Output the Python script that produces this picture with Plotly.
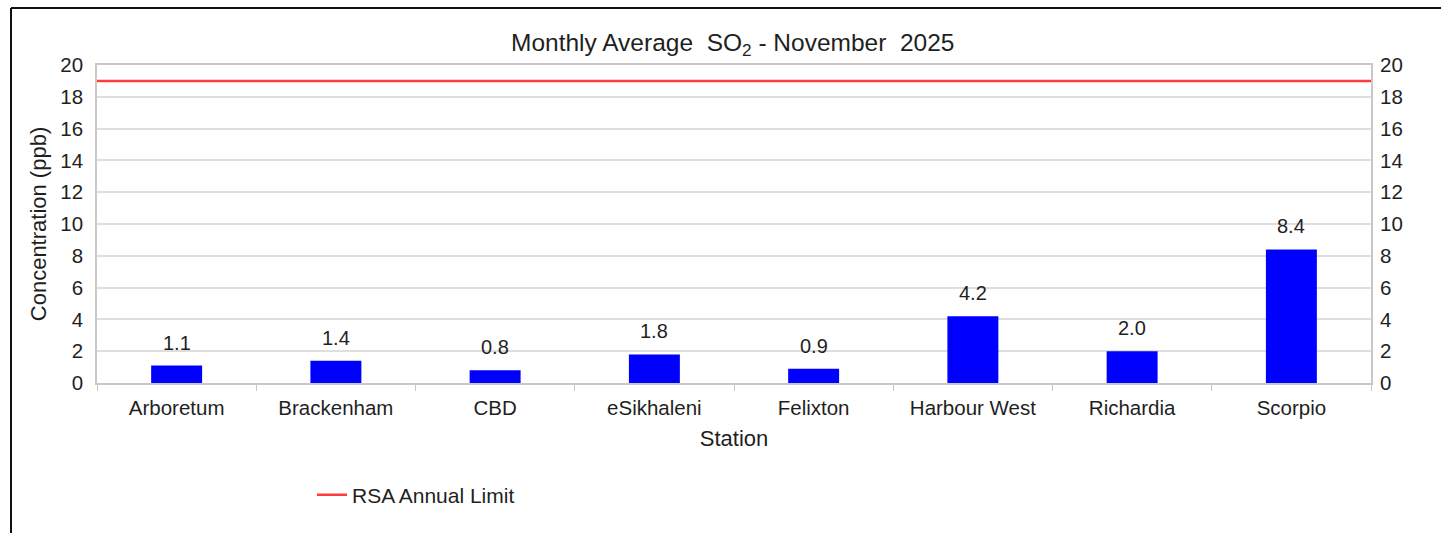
import plotly.graph_objects as go

stations = ["Arboretum", "Brackenham", "CBD", "eSikhaleni", "Felixton",
            "Harbour West", "Richardia", "Scorpio"]
so2_values = [1.1, 1.4, 0.8, 1.8, 0.9, 4.2, 2.0, 8.4]
annual_limit = 19
y_ticks = list(range(0, 21, 2))

FONT = "Liberation Sans, Arial, sans-serif"
TXT = "#1f1f1f"

fig = go.Figure()
fig.add_trace(go.Bar(
    x=stations, y=so2_values,
    marker=dict(color="#0000FF", line=dict(width=0)),
    width=0.32,
    showlegend=False,
))
fig.add_trace(go.Scatter(
    x=[0, 1], y=[annual_limit, annual_limit],
    xaxis="x2", yaxis="y",
    mode="lines", line=dict(color="#FF3B3B", width=2.5),
    name="RSA Annual Limit", showlegend=True,
))
# trace that activates the right-hand axis (no visible marks)
fig.add_trace(go.Scatter(x=[stations[0]], y=[None], yaxis="y2", mode="markers",
                         showlegend=False, hoverinfo="skip"))

# value labels above the bars
for st, v in zip(stations, so2_values):
    fig.add_annotation(x=st, y=v, xref="x", yref="y", text=f"{v:.1f}",
                       showarrow=False, yanchor="bottom", yshift=10,
                       font=dict(family=FONT, size=20, color=TXT))

tfont = dict(family=FONT, size=20.5, color=TXT)
L, R, T, B = 97, 1371, 65, 383
W, H = 1441, 533
frame_x = (11 - L) / (R - L)
frame_y = (B - 8) / (B - T)

fig.update_layout(
    width=W, height=H,
    margin=dict(l=L, r=W - R, t=T, b=H - B),
    paper_bgcolor="white", plot_bgcolor="white",
    font=dict(family=FONT, color=TXT),
    title=dict(text="Monthly Average\u00a0\u00a0SO<sub>2</sub> - November\u00a0\u00a02025",
               x=0.5085, xanchor="center", y=1 - 42 / H, yanchor="middle",
               font=dict(family=FONT, size=24.5, color=TXT)),
    xaxis=dict(
        type="category", showgrid=False, showline=True, linecolor="#c8c8c8",
        linewidth=1.5, mirror=True, ticks="outside", tickson="boundaries",
        ticklen=6, tickcolor="#c8c8c8", tickfont=tfont, ticklabelstandoff=6,
        title=dict(text="Station", font=dict(family=FONT, size=22, color=TXT), standoff=12),
    ),
    xaxis2=dict(overlaying="x", range=[0, 1], visible=False),
    yaxis=dict(
        range=[0, 20], tickvals=y_ticks, showgrid=True, gridcolor="#dedede",
        gridwidth=1.5, showline=True, linecolor="#c8c8c8", linewidth=1.5, mirror=True,
        zeroline=False, tickfont=tfont, ticks="", ticklabelstandoff=8,
        title=dict(text="Concentration (ppb)", font=dict(family=FONT, size=22, color=TXT),
                   standoff=8),
    ),
    yaxis2=dict(
        overlaying="y", side="right", range=[0, 20], tickvals=y_ticks,
        showgrid=False, zeroline=False, showline=False, tickfont=tfont,
        ticklabelstandoff=8,
    ),
    legend=dict(x=(312 - L) / (R - L), xanchor="left", y=(B - 495) / (B - T),
                yanchor="middle",
                font=dict(family=FONT, size=21, color=TXT), bgcolor="rgba(0,0,0,0)"),
    shapes=[
        dict(type="line", xref="paper", yref="paper", x0=frame_x, x1=frame_x,
             y0=-0.6, y1=frame_y, line=dict(color="#111111", width=2)),
        dict(type="line", xref="paper", yref="paper", x0=frame_x, x1=1.1,
             y0=frame_y, y1=frame_y, line=dict(color="#111111", width=2)),
    ],
)

fig.write_html("out.html", config={"displayModeBar": False},
               post_script="document.body.style.margin='0px';")
